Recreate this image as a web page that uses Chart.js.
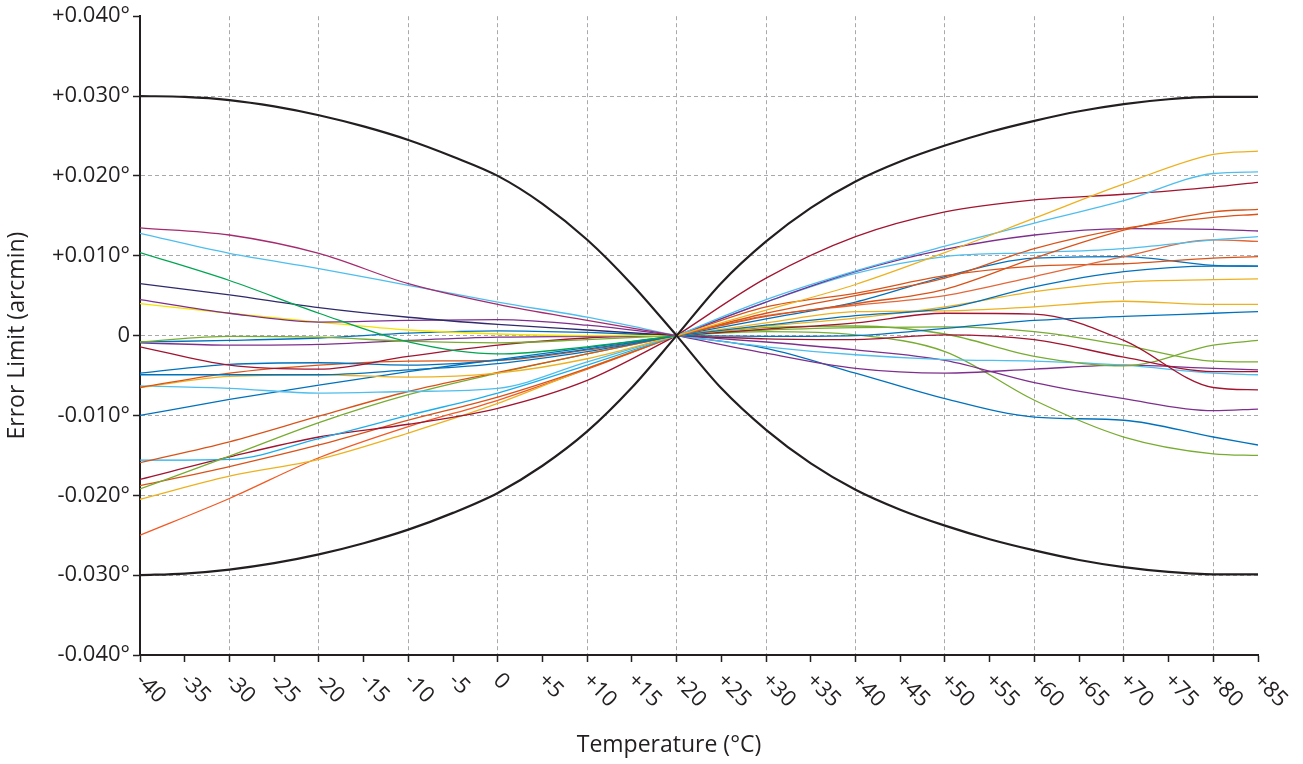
<!DOCTYPE html>
<html><head><meta charset="utf-8">
<script src="https://cdn.jsdelivr.net/npm/chart.js@4.4.0/dist/chart.umd.min.js"></script>
<style>html,body{margin:0;padding:0;background:#fff;} #wrap{width:1303px;height:764px;}</style>
</head><body><div id="wrap"><canvas id="c" width="1303" height="764"></canvas></div>
<script>
// ---- temperatures (°C) ----
const tempsL = [-40, -30, -20, -10, 0, 10, 20];
const tempsR = [20, 30, 40, 50, 60, 70, 80, 85];
const envTempsL = [-40, -35, -30, -25, -20, -15, -10, -5, 0, 5, 10, 15, 20];
const envTempsR = [20, 25, 30, 35, 40, 45, 50, 55, 60, 65, 70, 75, 80, 85];

// ---- error limit envelope (degrees) ----
const envUpperL = [0.0300, 0.0299, 0.0295, 0.0287, 0.0276, 0.0262, 0.0245, 0.0224, 0.0200, 0.0165, 0.0120, 0.0064, 0];
const envLowerL = [-0.0300, -0.0298, -0.0293, -0.0285, -0.0274, -0.0260, -0.0243, -0.0222, -0.0197, -0.0163, -0.0120, -0.0065, 0];
const envUpperR = [0, 0.0066, 0.0118, 0.0160, 0.0193, 0.0218, 0.0238, 0.0255, 0.0269, 0.0281, 0.0290, 0.0296, 0.0299, 0.0299];
const envLowerR = [0, -0.0066, -0.0118, -0.0160, -0.0193, -0.0218, -0.0238, -0.0255, -0.0269, -0.0281, -0.0290, -0.0296, -0.0299, -0.0299];

// ---- measured curves, -40..+20 °C ----
const magentaL    = [0.0135, 0.0126, 0.0103, 0.0065, 0.0039, 0.0019, 0];
const lightBlueL1 = [0.0128, 0.0103, 0.0084, 0.0063, 0.0042, 0.0023, 0];
const greenBrightL= [0.0104, 0.0069, 0.0028, -0.0008, -0.0023, -0.0014, 0];
const navyL       = [0.0065, 0.0051, 0.0035, 0.0023, 0.0014, 0.0007, 0];
const purpleL1    = [0.0045, 0.0028, 0.0017, 0.0019, 0.0020, 0.0013, 0];
const yellowL     = [0.0040, 0.0028, 0.0017, 0.0007, 0.0002, 0.0000, 0];
const greenL1     = [-0.0008, -0.0001, -0.0002, -0.0007, -0.0009, -0.0005, 0];
const blueL1      = [-0.0008, -0.0006, -0.0003, 0.0003, 0.0006, 0.0004, 0];
const purpleL2    = [-0.0009, -0.0012, -0.0011, -0.0006, -0.0002, -0.0001, 0];
const darkRedL1   = [-0.0014, -0.0037, -0.0042, -0.0026, -0.0012, -0.0003, 0];
const blueL2      = [-0.0047, -0.0036, -0.0034, -0.0037, -0.0031, -0.0017, 0];
const blueL3      = [-0.0049, -0.0049, -0.0049, -0.0043, -0.0035, -0.0020, 0];
const orangeL1    = [-0.0065, -0.0047, -0.0037, -0.0032, -0.0031, -0.0018, 0];
const goldL1      = [-0.0065, -0.0051, -0.0049, -0.0052, -0.0047, -0.0029, 0];
const lightBlueL2 = [-0.0063, -0.0066, -0.0072, -0.0070, -0.0066, -0.0033, 0];
const blueL4      = [-0.0100, -0.0080, -0.0062, -0.0045, -0.0030, -0.0015, 0];
const orangeL2    = [-0.0159, -0.0133, -0.0101, -0.0070, -0.0046, -0.0023, 0];
const greenL2     = [-0.0192, -0.0151, -0.0109, -0.0074, -0.0047, -0.0023, 0];
const lightBlueL3 = [-0.0156, -0.0155, -0.0129, -0.0100, -0.0072, -0.0037, 0];
const darkRedL2   = [-0.0180, -0.0152, -0.0127, -0.0111, -0.0091, -0.0056, 0];
const orangeL3    = [-0.0188, -0.0164, -0.0137, -0.0106, -0.0077, -0.0041, 0];
const goldL2      = [-0.0205, -0.0176, -0.0155, -0.0122, -0.0085, -0.0041, 0];
const redOrangeL  = [-0.0250, -0.0204, -0.0153, -0.0114, -0.0081, -0.0042, 0];

// ---- measured curves, +20..+85 °C ----
const goldR1      = [0, 0.0032, 0.0064, 0.0104, 0.0147, 0.0190, 0.0227, 0.0231];
const lightBlueR1 = [0, 0.0045, 0.0081, 0.0112, 0.0141, 0.0169, 0.0203, 0.0205];
const darkRedR1   = [0, 0.0072, 0.0124, 0.0155, 0.0170, 0.0177, 0.0186, 0.0192];
const orangeR1    = [0, 0.0024, 0.0040, 0.0058, 0.0097, 0.0132, 0.0155, 0.0158];
const orangeR2    = [0, 0.0028, 0.0050, 0.0072, 0.0109, 0.0134, 0.0148, 0.0152];
const purpleR1    = [0, 0.0042, 0.0080, 0.0108, 0.0126, 0.0134, 0.0133, 0.0131];
const lightBlueR2 = [0, 0.0042, 0.0078, 0.0099, 0.0104, 0.0109, 0.0120, 0.0124];
const orangeR3    = [0, 0.0025, 0.0038, 0.0050, 0.0074, 0.0099, 0.0120, 0.0118];
const orangeR4    = [0, 0.0036, 0.0053, 0.0075, 0.0087, 0.0090, 0.0097, 0.0099];
const blueR1      = [0, 0.0021, 0.0042, 0.0074, 0.0097, 0.0099, 0.0088, 0.0087];
const blueR2      = [0, 0.0013, 0.0025, 0.0034, 0.0061, 0.0080, 0.0087, 0.0087];
const goldR2      = [0, 0.0012, 0.0022, 0.0036, 0.0055, 0.0067, 0.0070, 0.0071];
const goldR3      = [0, 0.0016, 0.0030, 0.0031, 0.0036, 0.0043, 0.0039, 0.0039];
const blueR3      = [0, -0.0001, 0.0000, 0.0009, 0.0019, 0.0024, 0.0028, 0.0030];
const darkRedR2   = [0, 0.0008, 0.0016, 0.0028, 0.0027, -0.0006, -0.0065, -0.0068];
const greenR1     = [0, 0.0007, 0.0010, 0.0011, 0.0005, -0.0012, -0.0032, -0.0033];
const darkRedR3   = [0, -0.0004, -0.0005, 0.0001, -0.0005, -0.0027, -0.0045, -0.0045];
const greenR2     = [0, 0.0010, 0.0012, 0.0002, -0.0026, -0.0038, -0.0012, -0.0006];
const lightBlueR3 = [0, -0.0014, -0.0024, -0.0030, -0.0032, -0.0037, -0.0047, -0.0049];
const purpleR2    = [0, -0.0022, -0.0041, -0.0047, -0.0042, -0.0037, -0.0041, -0.0043];
const purpleR3    = [0, -0.0008, -0.0018, -0.0031, -0.0059, -0.0079, -0.0094, -0.0092];
const greenR3     = [0, 0.0005, 0.0001, -0.0020, -0.0081, -0.0127, -0.0148, -0.0150];
const blueR4      = [0, -0.0016, -0.0047, -0.0079, -0.0102, -0.0106, -0.0127, -0.0137];

// ---- axis ----
const xMin = -40, xMax = 85, xStep = 5;
const yMin = -0.04, yMax = 0.04, yStep = 0.01;
const xTitle = 'Temperature (°C)';
const yTitle = 'Error Limit (arcmin)';

const C = {
  blue: '#0072BD', orange: '#D95319', gold: '#EDB120', purple: '#7E2F8E',
  green: '#77AC30', lightBlue: '#4DBEEE', darkRed: '#A2142F', magenta: '#A62A6F',
  greenBright: '#00A651', navy: '#2E2A6B', yellow: '#F2E300', redOrange: '#F15A24',
  brightBlue: '#1CAEEB', salmon: '#E2683A'
};

function line(xs, ys, color, width) {
  return {
    data: xs.map((x, i) => ({x: x, y: ys[i]})),
    borderColor: color, borderWidth: width, pointRadius: 0, pointHoverRadius: 0,
    fill: false, cubicInterpolationMode: 'monotone'
  };
}

const leftCurves = [
  [magentaL, C.magenta], [lightBlueL1, C.lightBlue], [greenBrightL, C.greenBright],
  [navyL, C.navy], [purpleL1, C.purple], [yellowL, C.yellow], [greenL1, C.green],
  [blueL1, C.blue], [purpleL2, C.purple], [darkRedL1, C.darkRed], [blueL2, C.blue],
  [blueL3, C.blue], [orangeL1, C.orange], [goldL1, C.gold], [lightBlueL2, C.lightBlue],
  [blueL4, C.blue], [orangeL2, C.orange], [greenL2, C.green], [lightBlueL3, C.brightBlue],
  [darkRedL2, C.darkRed], [orangeL3, C.orange], [goldL2, C.gold], [redOrangeL, C.redOrange]
];
const rightCurves = [
  [goldR1, C.gold], [lightBlueR1, C.lightBlue], [darkRedR1, C.darkRed], [orangeR1, C.orange],
  [orangeR2, C.orange], [purpleR1, C.purple], [lightBlueR2, C.lightBlue], [orangeR3, C.salmon],
  [orangeR4, C.orange], [blueR1, C.blue], [blueR2, C.blue], [goldR2, C.gold], [goldR3, C.gold],
  [blueR3, C.blue], [darkRedR2, C.darkRed], [greenR1, C.green], [darkRedR3, C.darkRed],
  [greenR2, C.green], [lightBlueR3, C.lightBlue], [purpleR2, C.purple], [purpleR3, C.purple],
  [greenR3, C.green], [blueR4, C.blue]
];

const datasets = [
  line(envTempsL, envUpperL, '#231F20', 2.2),
  line(envTempsL, envLowerL, '#231F20', 2.2),
  line(envTempsR, envUpperR, '#231F20', 2.2),
  line(envTempsR, envLowerR, '#231F20', 2.2)
];
leftCurves.forEach(c => datasets.push(line(tempsL, c[0], c[1], 1.3)));
rightCurves.forEach(c => datasets.push(line(tempsR, c[0], c[1], 1.3)));

const FONT = '"Open Sans", "Noto Sans", sans-serif';
const TEXT = '#231F20';

function fmtX(v) { return v > 0 ? '+' + v : String(v); }
function fmtY(v) {
  if (Math.abs(v) < 1e-9) return '0';
  return (v > 0 ? '+' : '-') + Math.abs(v).toFixed(3) + '°';
}

const xLabelPlugin = {
  id: 'xLabels',
  afterDraw(chart) {
    const xs = chart.scales.x, ctx = chart.ctx;
    ctx.save();
    ctx.font = '22px ' + FONT;
    ctx.fillStyle = TEXT;
    ctx.textAlign = 'left';
    ctx.textBaseline = 'middle';
    xs.ticks.forEach(t => {
      const px = xs.getPixelForValue(t.value);
      ctx.save();
      ctx.translate(px - 1, xs.top + 22);
      ctx.rotate(Math.PI / 4);
      ctx.fillText(fmtX(t.value), 0, 0);
      ctx.restore();
    });
    // axis title (sits slightly left of the axis centre in the original)
    ctx.font = '23px ' + FONT;
    ctx.textAlign = 'center';
    ctx.textBaseline = 'middle';
    ctx.fillText(xTitle, 669, 745);
    ctx.restore();
  }
};

new Chart(document.getElementById('c'), {
  type: 'line',
  data: { datasets: datasets },
  plugins: [xLabelPlugin],
  options: {
    responsive: false, animation: false, devicePixelRatio: 1,
    layout: { padding: { top: 16, right: 45, bottom: 0, left: 0 } },
    plugins: { legend: { display: false }, tooltip: { enabled: false } },
    events: [],
    scales: {
      x: {
        type: 'linear', min: xMin, max: xMax,
        ticks: { display: false, stepSize: xStep },
        grid: {
          color: ctx => (ctx.tick && ctx.tick.value % 10 === 0 && ctx.tick.value > xMin && ctx.tick.value < xMax) ? '#A7A9AC' : 'rgba(0,0,0,0)',
          lineWidth: 1, tickColor: '#231F20', tickLength: 7, tickWidth: 1.5, drawTicks: true
        },
        border: { display: true, color: '#231F20', width: 2, dash: [4, 3] },
        title: { display: false },
        afterFit: s => { s.height = 109; }
      },
      y: {
        min: yMin, max: yMax,
        ticks: { stepSize: yStep, color: TEXT, font: { family: FONT, size: 22 }, padding: 3, callback: v => fmtY(v) },
        grid: {
          color: ctx => (ctx.tick && Math.abs(ctx.tick.value) < 0.035) ? '#A7A9AC' : 'rgba(0,0,0,0)',
          lineWidth: 1, tickColor: '#231F20', tickLength: 7, tickWidth: 1.5, drawTicks: true
        },
        border: { display: true, color: '#231F20', width: 2, dash: [4, 3] },
        title: { display: true, text: yTitle, color: TEXT, font: { family: FONT, size: 23 }, padding: { top: 4, bottom: 0 } },
        afterFit: s => { s.width = 140; }
      }
    }
  }
});
</script></body></html>
